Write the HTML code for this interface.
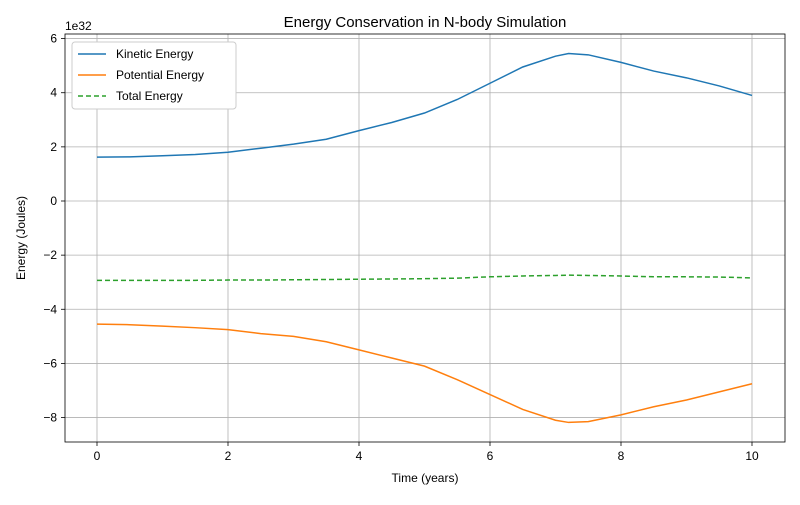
<!DOCTYPE html>
<html><head><meta charset="utf-8"><style>
body{margin:0;background:#fff;font-family:"Liberation Sans","DejaVu Sans",sans-serif}
svg text{font-family:"Liberation Sans","DejaVu Sans",sans-serif;fill:#000}
</style></head><body>
<svg id="c" width="800" height="500" xmlns="http://www.w3.org/2000/svg"></svg>
<script>
const times=[0,0.5,1,1.5,2,2.5,3,3.5,4,4.5,5,5.5,6,6.5,7,7.2,7.5,8,8.5,9,9.5,10];
const kinetic=[1.62,1.63,1.67,1.72,1.8,1.95,2.1,2.28,2.6,2.9,3.25,3.75,4.35,4.95,5.35,5.45,5.4,5.12,4.8,4.55,4.25,3.9];
const potential=[-4.55,-4.57,-4.62,-4.68,-4.75,-4.9,-5.0,-5.2,-5.5,-5.8,-6.1,-6.6,-7.15,-7.7,-8.1,-8.18,-8.15,-7.9,-7.6,-7.35,-7.05,-6.75];
const total=[-2.93,-2.93,-2.93,-2.93,-2.92,-2.92,-2.91,-2.9,-2.89,-2.88,-2.87,-2.85,-2.8,-2.77,-2.75,-2.74,-2.75,-2.77,-2.8,-2.8,-2.81,-2.84];
const xTicks=[0,2,4,6,8,10];
const yTicks=[-8,-6,-4,-2,0,2,4,6];
const L=65,R=785,T=34,B=442;
const x=v=>97+v*65.5;
const y=v=>201-v*27.07;
const svg=document.getElementById('c');
const NS='http://www.w3.org/2000/svg';
function el(t,a,txt){const e=document.createElementNS(NS,t);for(const k in a)e.setAttribute(k,a[k]);if(txt!==undefined)e.textContent=txt;svg.appendChild(e);return e;}
xTicks.forEach(v=>{
 const g=el('line',{x1:x(v),x2:x(v),y1:T,y2:B,stroke:'#b0b0b0','stroke-width':0.8});
 
 
 el('line',{x1:x(v),x2:x(v),y1:B,y2:B+4,stroke:'#000','stroke-width':0.8});
 const t=el('text',{x:x(v),y:B+18,'text-anchor':'middle','font-size':12},String(v));
 
 
});
yTicks.forEach(v=>{
 const g=el('line',{x1:L,x2:R,y1:y(v),y2:y(v),stroke:'#b0b0b0','stroke-width':0.8});
 
 
 el('line',{x1:L-4,x2:L,y1:y(v),y2:y(v),stroke:'#000','stroke-width':0.8});
 const t=el('text',{x:L-8,y:y(v)+4,'text-anchor':'end','font-size':12},v<0?'\u2212'+(-v):String(v));
 
 
});
function line(arr,color,dash,name){
 const p=el('polyline',{points:times.map((t,i)=>x(t)+','+y(arr[i])).join(' '),fill:'none',stroke:color,'stroke-width':1.5});
 if(dash)p.setAttribute('stroke-dasharray',dash);
 
 
}
line(kinetic,'#1f77b4',null,'kinetic-energy-line');
line(potential,'#ff7f0e',null,'potential-energy-line');
line(total,'#2ca02c','5,3','total-energy-line');
const fr=el('rect',{x:L,y:T,width:R-L,height:B-T,fill:'none',stroke:'#000','stroke-width':0.8});


const ti=el('text',{x:425,y:27,'text-anchor':'middle','font-size':15},'Energy Conservation in N-body Simulation');


const xl=el('text',{x:425,y:482,'text-anchor':'middle','font-size':12},'Time (years)');


const yl=el('text',{x:0,y:0,'text-anchor':'middle','font-size':12,transform:'translate(25,238) rotate(-90)'},'Energy (Joules)');


const off=el('text',{x:65,y:30,'font-size':12},'1e32');


const lg=el('rect',{x:72,y:42,width:164,height:67,fill:'#fff',stroke:'#ccc','stroke-width':1,rx:3});


[['Kinetic Energy','#1f77b4',null],['Potential Energy','#ff7f0e',null],['Total Energy','#2ca02c','5,3']].forEach((d,i)=>{
 const yy=54+i*21;
 const l=el('line',{x1:78,x2:106,y1:yy,y2:yy,stroke:d[1],'stroke-width':1.5});
 if(d[2])l.setAttribute('stroke-dasharray',d[2]);
 
 
 const t=el('text',{x:116,y:yy+4,'font-size':12},d[0]);
 
 
});
</script>
</body></html>
